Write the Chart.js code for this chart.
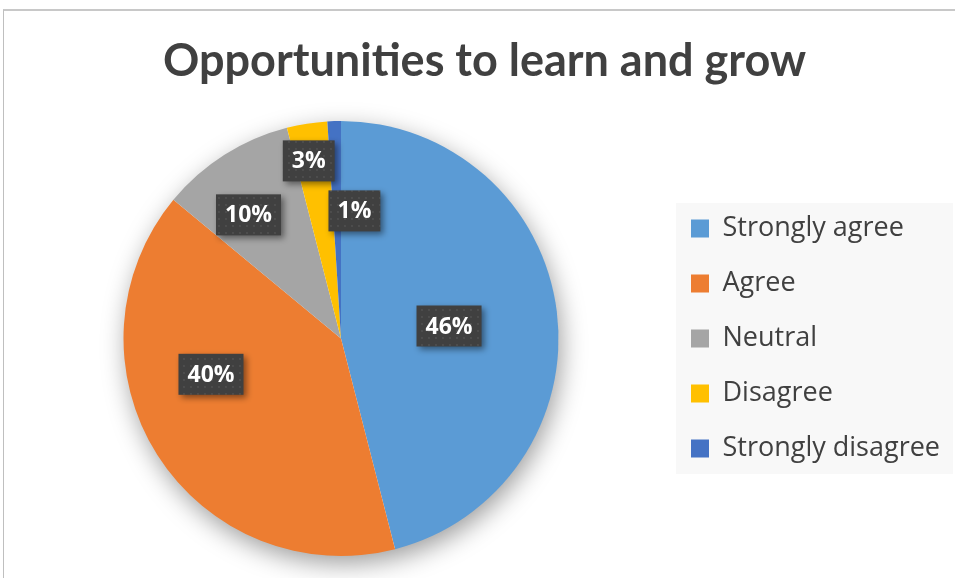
<!DOCTYPE html>
<html>
<head>
<meta charset="utf-8">
<script src="https://cdn.jsdelivr.net/npm/chart.js@4"></script>
<style>
  html, body { margin: 0; padding: 0; background: #fff; }
  #frame { position: absolute; left: 3px; top: 9px; width: 970px; height: 590px;
           border-left: 1px solid #bfbfbf; border-top: 2px solid #c8c8c8; }
  #wrap { position: absolute; left: 0; top: 0; width: 955px; height: 578px; }
</style>
</head>
<body>
<div id="frame"></div>
<div id="wrap"><canvas id="chart"></canvas></div>
<script>
const titleText = 'Opportunities to learn and grow';
const answers = ['Strongly agree', 'Agree', 'Neutral', 'Disagree', 'Strongly disagree'];
const shares = [46, 40, 10, 3, 1]; // percent
const sliceColors = ['#5B9BD5', '#ED7D31', '#A5A5A5', '#FFC000', '#4472C4'];

// where each percentage box sits: fraction of radius, angle shift (deg, clockwise)
const labelPlacement = [
  { r: 0.50, da: 0.6 },
  { r: 0.62, da: 17 },
  { r: 0.71, da: -4.4 },
  { r: 0.83, da: -1.3 },
  { r: 0.59, da: 7.8 }
];

function dotPattern(ctx) {
  const c = document.createElement('canvas');
  c.width = 7; c.height = 7;
  const p = c.getContext('2d');
  p.fillStyle = '#404040';
  p.fillRect(0, 0, 7, 7);
  p.fillStyle = 'rgba(255,255,255,0.10)';
  p.beginPath(); p.arc(2, 2, 0.9, 0, Math.PI * 2); p.fill();
  return ctx.createPattern(c, 'repeat');
}

const pieShadow = {
  id: 'pieShadow',
  beforeDatasetsDraw(chart) {
    const arc = chart.getDatasetMeta(0).data[0];
    if (!arc) return;
    const ctx = chart.ctx;
    ctx.save();
    ctx.shadowColor = 'rgba(0,0,0,0.4)';
    ctx.shadowBlur = 26;
    ctx.shadowOffsetX = 3;
    ctx.shadowOffsetY = 8;
    ctx.fillStyle = '#fff';
    ctx.beginPath();
    ctx.arc(arc.x, arc.y, arc.outerRadius - 1, 0, Math.PI * 2);
    ctx.fill();
    ctx.restore();
  }
};

const legendBg = {
  id: 'legendBg',
  beforeDraw(chart) {
    const lg = chart.legend;
    if (!lg || !lg.legendHitBoxes.length) return;
    const hb = lg.legendHitBoxes;
    const first = hb[0], last = hb[hb.length - 1];
    const right = Math.max(...hb.map(h => h.left + h.width));
    const ctx = chart.ctx;
    ctx.save();
    ctx.fillStyle = '#f8f8f8';
    ctx.fillRect(first.left - 15, first.top - 12, right - first.left + 28, last.top + last.height - first.top + 24);
    ctx.restore();
  }
};

const pctLabels = {
  id: 'pctLabels',
  afterDatasetsDraw(chart, args, opts) {
    const meta = chart.getDatasetMeta(0);
    const ctx = chart.ctx;
    const pat = dotPattern(ctx);
    meta.data.forEach((arc, i) => {
      const pl = opts.place[i];
      const mid = (arc.startAngle + arc.endAngle) / 2 + pl.da * Math.PI / 180;
      const r = arc.outerRadius * pl.r;
      const x = arc.x + Math.cos(mid) * r;
      const y = arc.y + Math.sin(mid) * r;
      const text = shares[i] + '%';
      ctx.save();
      ctx.font = 'bold 23px "Open Sans"';
      const w = ctx.measureText(text).width + 18;
      const h = 41;
      ctx.shadowColor = 'rgba(0,0,0,0.45)';
      ctx.shadowBlur = 6;
      ctx.shadowOffsetX = 3;
      ctx.shadowOffsetY = 3;
      ctx.fillStyle = pat;
      ctx.fillRect(x - w / 2, y - h / 2, w, h);
      ctx.shadowColor = 'transparent';
      ctx.fillStyle = '#fff';
      ctx.textAlign = 'center';
      ctx.textBaseline = 'middle';
      ctx.fillText(text, x, y + 1);
      ctx.restore();
    });
  }
};

new Chart(document.getElementById('chart'), {
  type: 'pie',
  data: {
    labels: answers,
    datasets: [{
      data: shares,
      backgroundColor: sliceColors,
      borderWidth: 0
    }]
  },
  options: {
    responsive: true,
    maintainAspectRatio: false,
    animation: false,
    layout: { padding: { left: 19, right: 5, top: 0, bottom: 22 } },
    plugins: {
      title: {
        display: true,
        text: titleText,
        color: '#404040',
        font: { family: 'Lato', size: 45, weight: 'bold' },
        padding: { top: 34, bottom: 33 }
      },
      legend: {
        position: 'right',
        fullSize: false,
        labels: {
          boxWidth: 18,
          boxHeight: 18,
          padding: 28,
          color: '#404040',
          font: { family: "'Open Sans'", size: 27 }
        }
      },
      tooltip: { enabled: false },
      pctLabels: { place: labelPlacement }
    }
  },
  plugins: [legendBg, pieShadow, pctLabels]
});
</script>
</body>
</html>
